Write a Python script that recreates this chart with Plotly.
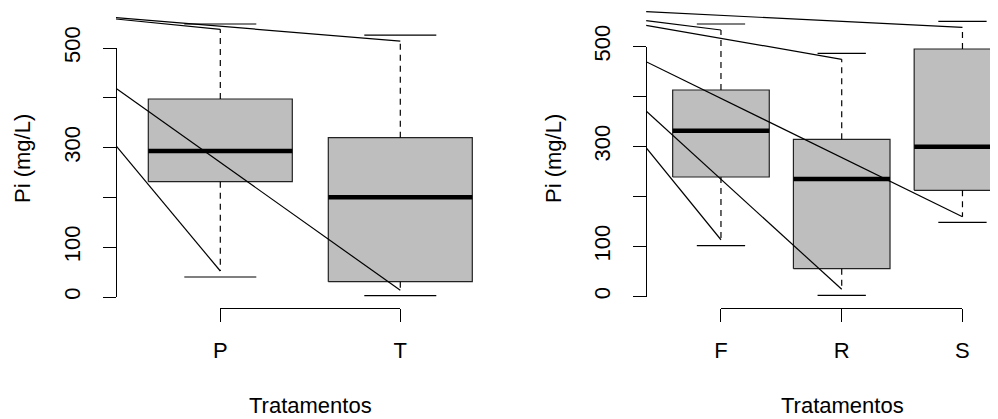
import plotly.graph_objects as go

# screen size and the page's default body margin (figure starts 8 px in)
SW, SH = 998, 419
OFF = 8
W, H = SW - OFF, SH - OFF

# ---------------- data ----------------
cats1 = ["P", "T"]
q1_1 = [231.5, 30.7]
med_1 = [293.2, 200.2]
q3_1 = [397.6, 319.9]
whi_1 = [537.5, 514.0]
wlo_1 = [52.2, 13.5]
caphi_1 = [548.2, 526.0]
caplo_1 = [40.2, 2.6]
linehi_1 = [558.2, 560.8]
linelo_1 = [303.8, 419.1]

cats2 = ["F", "R", "S"]
q1_2 = [239.0, 55.6, 212.4]
med_2 = [331.6, 235.0, 299.6]
q3_2 = [413.0, 314.4, 495.0]
whi_2 = [533.0, 474.4, 538.4]
wlo_2 = [113.5, 14.4, 159.6]
caphi_2 = [545.0, 486.4, 550.4]
caplo_2 = [101.6, 2.4, 148.4]
linehi_2 = [551.6, 542.4, 569.6]
linelo_2 = [297.6, 371.0, 469.6]

yticks = [0, 100, 200, 300, 400, 500]
yticktext = ["0", "100", "", "300", "", "500"]
xtitle = "Tratamentos"
ytitle = "Pi (mg/L)"

FONT = "Arial, Liberation Sans, Helvetica, sans-serif"
FS = 22
BOXFILL = "#BEBEBE"


def fx(px):   # screen x pixel -> paper fraction
    return (px - OFF) / W


def fy(py):   # screen y pixel -> paper fraction (from bottom)
    return (SH - py) / H


# ---------------- panel geometry (screen pixels) ----------------
panels = [
    dict(cats=cats1, q1=q1_1, med=med_1, q3=q3_1, whi=whi_1, wlo=wlo_1,
         caphi=caphi_1, caplo=caplo_1, lhi=linehi_1, llo=linelo_1,
         xmin=0.42, pxl=115.9, ppx=180.0, py0=297.0, ppy=0.498, pyb=307.7,
         ytx=22.0, xtx=310.3),
    dict(cats=cats2, q1=q1_2, med=med_2, q3=q3_2, whi=whi_2, wlo=wlo_2,
         caphi=caphi_2, caplo=caplo_2, lhi=linehi_2, llo=linelo_2,
         xmin=0.38, pxl=646.1, ppx=120.75, py0=296.5, ppy=0.5, pyb=307.5,
         ytx=553.0, xtx=842.5),
]

fig = go.Figure()
layout = dict(width=W, height=H,
              margin=dict(l=0, r=0, t=0, b=0, pad=0, autoexpand=False),
              paper_bgcolor="white", plot_bgcolor="rgba(0,0,0,0)",
              showlegend=False, font=dict(family=FONT, size=FS, color="black"))
annotations = []

BW = 0.8   # box width (category units)
CW = 0.4   # staple width

for i, p in enumerate(panels):
    k = i + 1
    xa = "x" if k == 1 else f"x{k}"
    ya = "y" if k == 1 else f"y{k}"
    yd = f"y{k + 2}"
    xd = f"x{k + 2}"
    n = len(p["cats"])
    pxr = min(SW, p["pxl"] + (n + 1 - 2 * p["xmin"]) * p["ppx"])
    xmax = p["xmin"] + (pxr - p["pxl"]) / p["ppx"]
    ymin = (p["py0"] - p["pyb"]) / p["ppy"]
    ymax = (p["py0"] - OFF) / p["ppy"]
    pos = list(range(1, n + 1))

    for j, c in enumerate(pos):
        fig.add_trace(go.Scatter(
            x=[c - BW / 2, c + BW / 2, c + BW / 2, c - BW / 2, c - BW / 2],
            y=[p["q1"][j], p["q1"][j], p["q3"][j], p["q3"][j], p["q1"][j]],
            mode="lines", fill="toself", fillcolor=BOXFILL,
            line=dict(color="#222222", width=1.2), xaxis=xa, yaxis=ya,
            hoverinfo="skip"))
        fig.add_trace(go.Scatter(
            x=[c - BW / 2, c + BW / 2], y=[p["med"][j], p["med"][j]],
            mode="lines", line=dict(color="black", width=4.5), xaxis=xa, yaxis=ya,
            hoverinfo="skip"))
        fig.add_trace(go.Scatter(
            x=[c, c, None, c, c],
            y=[p["q3"][j], p["whi"][j], None, p["q1"][j], p["wlo"][j]],
            mode="lines", line=dict(color="black", width=1.2, dash="6px,5px"),
            xaxis=xa, yaxis=ya, hoverinfo="skip"))
        fig.add_trace(go.Scatter(
            x=[c - CW / 2, c + CW / 2, None, c - CW / 2, c + CW / 2],
            y=[p["caphi"][j], p["caphi"][j], None, p["caplo"][j], p["caplo"][j]],
            mode="lines", line=dict(color="black", width=1.2),
            xaxis=xa, yaxis=ya, hoverinfo="skip"))
    for j, c in enumerate(pos):
        fig.add_trace(go.Scatter(
            x=[p["xmin"], c, None, p["xmin"], c],
            y=[p["lhi"][j], p["whi"][j], None, p["llo"][j], p["wlo"][j]],
            mode="lines", line=dict(color="black", width=1.2),
            xaxis=xa, yaxis=ya, hoverinfo="skip"))

    fig.add_trace(go.Scatter(x=[None], y=[None], xaxis=xa, yaxis=yd, hoverinfo="skip"))
    fig.add_trace(go.Scatter(x=[None], y=[None], xaxis=xd, yaxis=ya, hoverinfo="skip"))

    xkey = "xaxis" if k == 1 else f"xaxis{k}"
    ykey = "yaxis" if k == 1 else f"yaxis{k}"
    layout[xkey] = dict(domain=[fx(p["pxl"]), min(1.0, fx(pxr))], range=[p["xmin"], xmax],
                        visible=False, anchor=ya, automargin=False)
    layout[ykey] = dict(domain=[fy(p["pyb"]), 1.0], range=[ymin, ymax],
                        visible=False, anchor=xa, automargin=False)
    y500px = p["py0"] - 500 * p["ppy"]
    layout[f"yaxis{k + 2}"] = dict(
        domain=[fy(p["py0"]), fy(y500px)], range=[0, 500],
        anchor="free", position=fx(p["pxl"]), side="left", automargin=False,
        showline=True, linecolor="black", linewidth=1.2, ticks="outside",
        ticklen=13, tickwidth=1.2, tickcolor="black", tickvals=yticks,
        ticktext=yticktext, tickangle=-90, ticklabelstandoff=14,
        showgrid=False, zeroline=False,
        tickfont=dict(family=FONT, size=FS, color="black"))
    x1px = p["pxl"] + (1 - p["xmin"]) * p["ppx"]
    xnpx = p["pxl"] + (n - p["xmin"]) * p["ppx"]
    layout[f"xaxis{k + 2}"] = dict(
        domain=[fx(x1px), fx(xnpx)], range=[1, n],
        anchor="free", position=fy(p["pyb"]), side="bottom", automargin=False,
        showline=True, linecolor="black", linewidth=1.2, ticks="outside",
        ticklen=13, tickwidth=1.2, tickcolor="black", tickvals=pos,
        ticktext=p["cats"], ticklabelstandoff=10,
        showgrid=False, zeroline=False,
        tickfont=dict(family=FONT, size=FS, color="black"))

    annotations.append(dict(text=xtitle, x=fx(p["xtx"]), y=fy(405.0),
                            xref="paper", yref="paper", showarrow=False,
                            xanchor="center", yanchor="middle",
                            font=dict(family=FONT, size=FS, color="black")))
    annotations.append(dict(text=ytitle, x=fx(p["ytx"]), y=fy(159.0),
                            xref="paper", yref="paper", showarrow=False,
                            textangle=-90, xanchor="center", yanchor="middle",
                            font=dict(family=FONT, size=FS, color="black")))

layout["annotations"] = annotations
fig.update_layout(**layout)
fig.write_html("out.html")
